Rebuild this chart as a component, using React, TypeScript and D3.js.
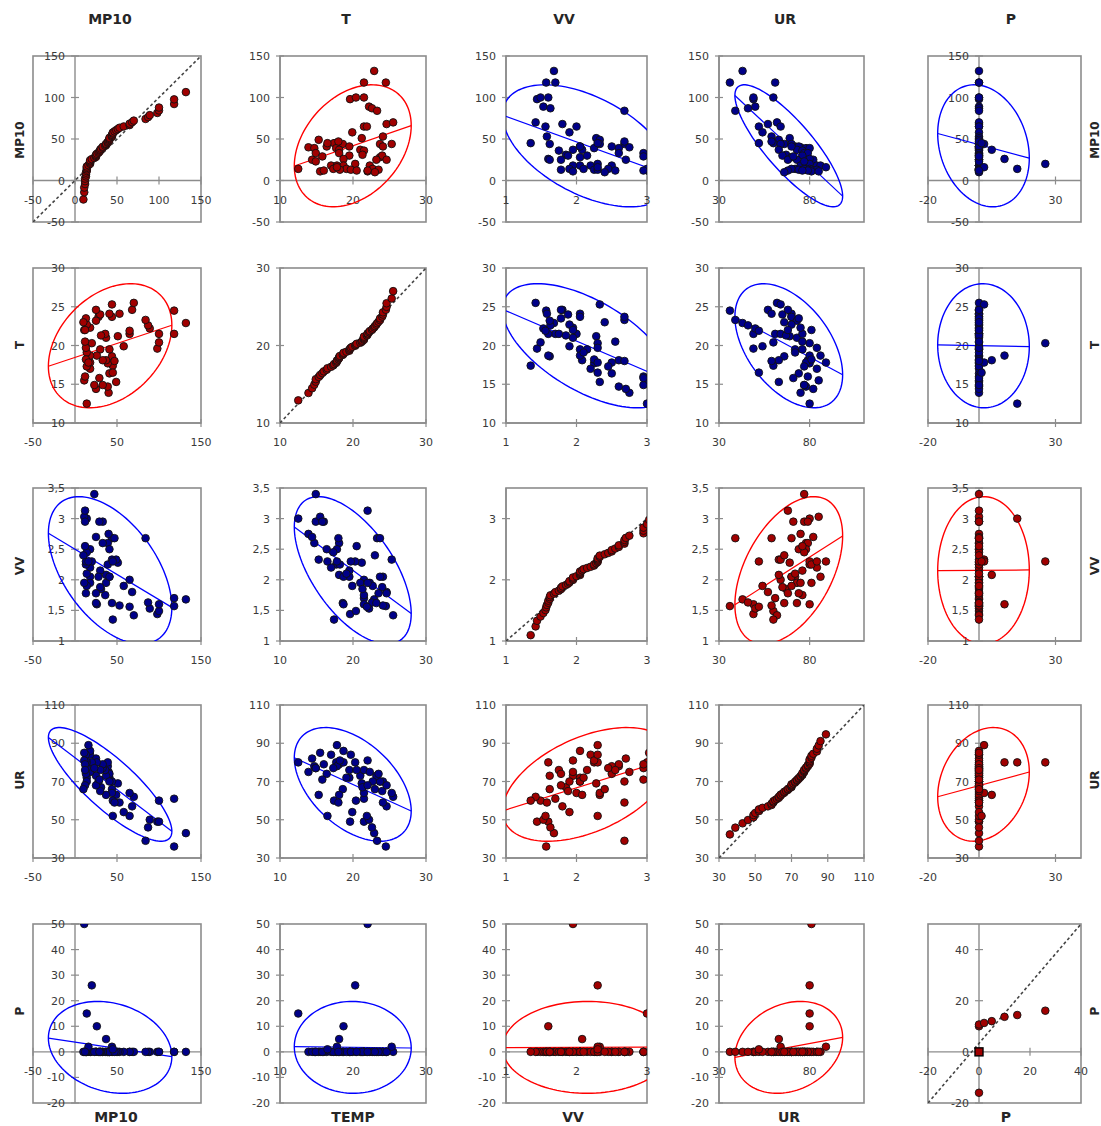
import React from "react";
import * as d3 from "d3";

// variable names as they appear around the matrix
const topNames = ["MP10", "T", "VV", "UR", "P"];
const sideNames = ["MP10", "T", "VV", "UR", "P"];
const bottomNames = ["MP10", "TEMP", "VV", "UR", "P"];

// one entry per day (same order in every array)
const mp10 = [132, 118, 118, 98, 100, 100, 89, 87, 84, 68, 70, 65, 65, 58, 53, 51, 49, 45, 44, 41, 44, 44, 40, 39, 41, 39, 37, 37, 36, 41, 33, 33, 30, 31, 25, 26, 28, 30, 25, 25, 18, 18, 18, 20, 18, 14, 14, 14, 13, 14, 13, 13, 11, 11, 12, 23, 12, 16, 10, 12, 47, 29, 45];
const temp = [22.9, 21.5, 24.5, 19.6, 20.4, 21.5, 22.2, 22.6, 23.3, 24.6, 25.5, 21.5, 21.9, 19.9, 24.1, 21.2, 15.3, 17.4, 18.6, 19.5, 25.3, 23.7, 13.9, 14.7, 16.4, 17.7, 18.1, 21.0, 21.5, 24.1, 14.9, 18.1, 19.5, 21.3, 14.4, 18.7, 23.7, 24.0, 23.2, 24.6, 17.0, 17.8, 18.7, 20.3, 22.3, 17.3, 19.1, 22.7, 23.5, 12.5, 18.2, 19.7, 22.0, 15.5, 16.0, 14.9, 22.0, 17.8, 23.0, 20.5, 18.0, 15.8, 16.5];
const vv = [1.68, 1.7, 1.57, 1.44, 1.49, 1.6, 1.53, 1.63, 2.68, 1.8, 1.42, 2.0, 1.56, 1.9, 1.58, 2.28, 2.33, 1.35, 1.62, 2.05, 2.33, 2.68, 2.75, 2.6, 2.5, 2.25, 2.08, 1.95, 1.75, 2.05, 2.95, 2.6, 2.15, 1.85, 2.7, 1.6, 2.05, 1.88, 1.62, 1.78, 2.2, 2.5, 2.05, 2.3, 1.95, 2.45, 2.1, 1.9, 1.78, 3.0, 2.25, 2.3, 1.95, 3.03, 2.95, 3.4, 3.13, 2.3, 2.4, 2.55, 2.68, 2.95, 2.3];
const ur = [43, 61, 36, 49, 60, 49, 50, 46, 39, 57, 62, 64, 52, 54, 59, 69, 63, 60, 66, 72, 64, 70, 75, 78, 74, 80, 63, 73, 76, 70, 77, 79, 76, 67, 82, 80, 70, 65, 73, 68, 84, 78, 86, 80, 75, 77, 72, 70, 74, 80, 81, 84, 81, 85, 79, 77, 68, 89, 66, 76, 59, 71, 52];
const precip = [0, 0, 0, 0, 0, 0, 0, 0, 0, 0, 0, 0, 0, 0, 0, 0, 0, 0, 0, 0, 2, 0, 0, 0, 0, 0, 5, 0, 0, 0, 0, 0, 0, 0, 0, 10, 0, 0, 0, 0, 0, 0, 0, 26, 0, 0, 0, 0, 0, 15, 0, 0, 50, 0, 0, 0, 0, 2, 0, 0, 0, 0, 1];

// normal plot for P
const pQQObs = [0, 0, 0, 0, 2, 5, 10, 15, 26, 50];
const pQQTheo = [-16, 0, 10, 10.7, 11.3, 12, 13.7, 14.4, 16.1, 19];

const series = [mp10, temp, vv, ur, precip];

const xDomains = [[-50, 150], [10, 30], [1, 3], [30, 110], [-20, 40]];
const yDomains = [[-50, 150], [10, 30], [1, 3.5], [30, 110], [-20, 50]];
const xTicks = [[-50, 50, 150], [10, 20, 30], [1, 2, 3], [30, 80], [-20, 30]];
const xTicksDiag = [[-50, 0, 50, 100, 150], [10, 20, 30], [1, 2, 3], [30, 50, 70, 90, 110], [-20, 0, 20, 40]];
const yTicks = [[-50, 0, 50, 100, 150], [10, 15, 20, 25, 30], [1, 1.5, 2, 2.5, 3, 3.5], [30, 50, 70, 90, 110], [-20, -10, 0, 10, 20, 30, 40, 50]];
const yTicksDiag = [[-50, 0, 50, 100, 150], [10, 20, 30], [1, 2, 3], [30, 50, 70, 90, 110], [-20, 0, 20, 40]];
const diagEnds = [[-50, -50, 150, 150], [10, 10, 30, 30], [1, 1, 3, 3], [30, 30, 110, 110], [-20, -20, 40, 50]];

// layout
const colX = [[33, 201], [280, 426], [506, 647], [719, 864], [928, 1081]];
const rowY = [[56, 222], [268, 423], [488, 641], [705, 858], [924, 1103]];
const topX = [110, 346, 564, 785, 1011];
const bottomX = [116, 353, 573, 789, 1006];
const rowMid = [140, 345, 566, 780, 1011];

const K = Math.sqrt(-2 * Math.log(0.05));
const GRID = "#8c8c8c";

function qnorm(p: number) {
  const q = p < 0.5 ? p : 1 - p;
  const t = Math.sqrt(-2 * Math.log(q));
  const z = t - (2.515517 + 0.802853 * t + 0.010328 * t * t) /
    (1 + 1.432788 * t + 0.189269 * t * t + 0.001308 * t * t * t);
  return p < 0.5 ? -z : z;
}

const fmt = (v: number) => String(v).replace(".", ",");

function Panel({ r, c }: { r: number; c: number }) {
  const [x0, x1] = colX[c];
  const [y0, y1] = rowY[r];
  const diag = r === c;
  const x = d3.scaleLinear().domain(xDomains[c]).range([x0, x1]);
  const y = d3.scaleLinear().domain(yDomains[r]).range([y1, y0]);
  const xAxisY = y(yDomains[r][0] < 0 ? 0 : yDomains[r][0]);
  const yAxisX = x(xDomains[c][0] < 0 ? 0 : xDomains[c][0]);
  const xt = diag ? xTicksDiag[c] : xTicks[c];
  const yt = diag ? yTicksDiag[r] : yTicks[r];
  const clip = `clip-${r}-${c}`;

  let pts: [number, number][] = [];
  let pos = true;
  let ellipse = "";
  let reg: [number, number][] = [];

  if (diag) {
    if (r === 4) {
      pts = pQQObs.map((v, i) => [v, pQQTheo[i]]);
    } else {
      const vals = d3.sort(series[r]);
      const m = d3.mean(vals)!;
      const s = d3.deviation(vals)!;
      pts = vals.map((v, i) => [v, m + s * qnorm((i + 1) / (vals.length + 1))]);
    }
  } else {
    const xs = series[c];
    const ys = series[r];
    const mx = d3.mean(xs)!, my = d3.mean(ys)!;
    const sx = d3.deviation(xs)!, sy = d3.deviation(ys)!;
    const cov = d3.sum(xs, (v, i) => (v - mx) * (ys[i] - my)) / (xs.length - 1);
    const rho = cov / (sx * sy);
    pos = rho >= 0;
    pts = xs.map((v, i) => [v, ys[i]]);
    const ring = d3.range(0, 360, 3).map((deg) => {
      const t = (deg * Math.PI) / 180;
      return [
        mx + K * sx * Math.cos(t),
        my + K * sy * (rho * Math.cos(t) + Math.sqrt(1 - rho * rho) * Math.sin(t)),
      ] as [number, number];
    });
    ellipse = d3.line<[number, number]>()
      .x((d) => x(d[0]))
      .y((d) => y(d[1]))
      .curve(d3.curveLinearClosed)(ring) || "";
    const b = cov / (sx * sx);
    reg = [mx - K * sx, mx + K * sx].map((v) => [v, my + b * (v - mx)] as [number, number]);
  }

  const lineColor = pos ? "#ff0000" : "#0000ff";
  const dotColor = pos ? "#a00000" : "#000088";
  const de = diagEnds[r];

  return (
    <g>
      <defs>
        <clipPath id={clip}>
          <rect x={x0} y={y0} width={x1 - x0} height={y1 - y0} />
        </clipPath>
      </defs>
      <rect x={x0} y={y0} width={x1 - x0} height={y1 - y0} fill="#fff" stroke={GRID} strokeWidth={1.6} />
      <line x1={x0} x2={x1} y1={xAxisY} y2={xAxisY} stroke={GRID} strokeWidth={1.4} />
      <line x1={yAxisX} x2={yAxisX} y1={y0} y2={y1} stroke={GRID} strokeWidth={1.4} />
      {xt.map((v) => (
        <g key={"xt" + v}>
          <line x1={x(v)} x2={x(v)} y1={xAxisY - 4} y2={xAxisY + 4} stroke={GRID} strokeWidth={1.2} />
          <text x={x(v)} y={xAxisY + 23} textAnchor="middle" fontSize={11} fill="#3a3a3a">{fmt(v)}</text>
        </g>
      ))}
      {yt.map((v) => (
        <g key={"yt" + v}>
          <line x1={yAxisX - 4} x2={yAxisX + 4} y1={y(v)} y2={y(v)} stroke={GRID} strokeWidth={1.2} />
          <text x={yAxisX - 10} y={y(v) + 4} textAnchor="end" fontSize={11} fill="#3a3a3a">{fmt(v)}</text>
        </g>
      ))}
      <g clipPath={`url(#${clip})`}>
        {diag && (
          <line x1={x(de[0])} y1={y(de[1])} x2={x(de[2])} y2={y(de[3])}
            stroke="#444" strokeWidth={1.6} strokeDasharray="3,2.5" />
        )}
        {!diag && <path d={ellipse} fill="none" stroke={lineColor} strokeWidth={1.4} />}
        {!diag && (
          <line x1={x(reg[0][0])} y1={y(reg[0][1])} x2={x(reg[1][0])} y2={y(reg[1][1])}
            stroke={lineColor} strokeWidth={1.2} />
        )}
        {pts.map((d, i) =>
          diag && r === 4 && d[0] === 0 && d[1] === 0 ? (
            <rect key={i} x={x(d[0]) - 4} y={y(d[1]) - 4} width={8} height={8}
              fill={dotColor} stroke="#000" strokeWidth={1.4} />
          ) : (
            <circle key={i} cx={x(d[0])} cy={y(d[1])} r={3.8}
              fill={dotColor} stroke="#111" strokeWidth={0.9} />
          )
        )}
      </g>
    </g>
  );
}

export default function App() {
  const cells: React.ReactNode[] = [];
  for (let r = 0; r < 5; r++) {
    for (let c = 0; c < 5; c++) {
      cells.push(<Panel key={`${r}-${c}`} r={r} c={c} />);
    }
  }
  return (
    <svg width={1101} height={1126} fontFamily="DejaVu Sans"
      style={{ position: "absolute", left: 0, top: 0, background: "#fff" }}>
      {cells}
      {topNames.map((n, i) => (
        <text key={"t" + n} x={topX[i]} y={24} textAnchor="middle" fontSize={14} fontWeight="bold" fill="#262626">{n}</text>
      ))}
      {bottomNames.map((n, i) => (
        <text key={"b" + n} x={bottomX[i]} y={1122} textAnchor="middle" fontSize={14} fontWeight="bold" fill="#262626">{n}</text>
      ))}
      {sideNames.map((n, i) => (
        <g key={"s" + n}>
          <text transform={`translate(24,${rowMid[i]}) rotate(-90)`} textAnchor="middle" fontSize={12} fontWeight="bold" fill="#262626">{n}</text>
          <text transform={`translate(1099,${rowMid[i]}) rotate(-90)`} textAnchor="middle" fontSize={12} fontWeight="bold" fill="#262626">{n}</text>
        </g>
      ))}
    </svg>
  );
}
